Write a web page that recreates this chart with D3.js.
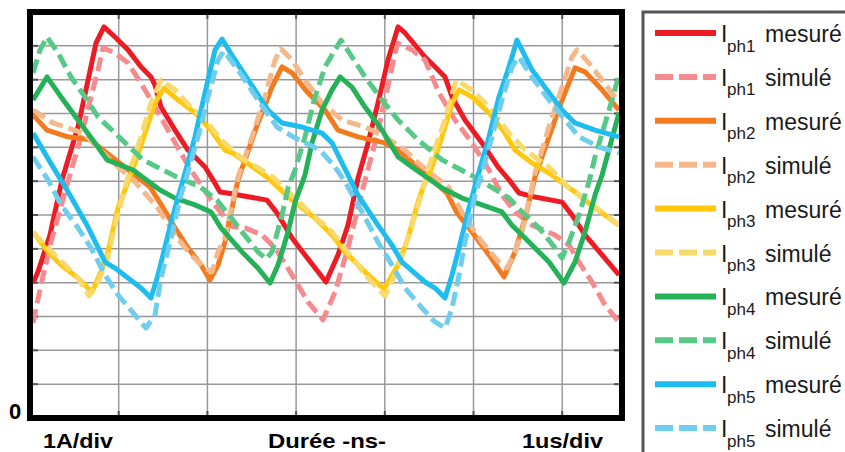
<!DOCTYPE html>
<html>
<head>
<meta charset="utf-8">
<script src="https://cdn.jsdelivr.net/npm/d3@7"></script>
<style>
  html, body { margin: 0; padding: 0; background: #fff; }
  svg { display: block; }
  text { font-family: "Liberation Sans", Arial, sans-serif; }
</style>
</head>
<body>
<svg id="chart" width="845" height="452"></svg>
<script>
// ---- Data: time in µs (1 µs/div), current in A (1 A/div) ----
const ph1Mesure = [[0.034,3.99],[0.090,4.32],[0.225,5.41],[0.361,7.04],[0.541,8.60],[0.631,9.70],[0.744,11.08],[0.834,11.56],[0.958,11.26],[1.105,10.88],[1.251,10.38],[1.364,10.08],[1.409,9.84],[1.477,9.19],[1.635,8.51],[1.781,7.92],[1.973,7.42],[2.063,7.04],[2.142,6.68],[2.221,6.65],[2.672,6.44],[2.785,6.06],[2.954,5.32],[3.100,4.82],[3.337,4.02],[3.472,4.82],[3.585,5.70],[3.698,7.09],[3.811,8.13],[3.923,9.31],[4.036,10.58],[4.149,11.56],[4.228,11.38],[4.453,10.67],[4.566,10.38],[4.679,10.08],[4.758,9.49],[4.904,8.81],[5.096,8.13],[5.276,7.42],[5.400,7.04],[5.513,6.65],[5.693,6.53],[5.998,6.38],[6.110,6.00],[6.257,5.41],[6.449,4.82],[6.640,4.23]];
const ph1Simule = [[0.034,2.81],[0.124,3.93],[0.237,5.20],[0.395,6.68],[0.575,8.31],[0.688,9.49],[0.767,10.29],[0.823,10.94],[0.958,10.79],[1.105,10.49],[1.251,9.90],[1.409,9.19],[1.556,8.51],[1.702,7.83],[1.815,7.33],[2.063,6.36],[2.289,5.65],[2.424,5.62],[2.616,5.41],[2.762,5.03],[2.954,4.23],[3.134,3.43],[3.303,2.90],[3.439,3.72],[3.585,5.03],[3.743,6.68],[3.890,8.13],[4.002,9.40],[4.115,10.79],[4.149,11.08],[4.307,10.88],[4.453,10.58],[4.611,9.61],[4.791,8.81],[4.983,8.13],[5.175,7.33],[5.321,6.59],[5.468,6.09],[5.659,5.70],[5.919,5.41],[6.077,5.11],[6.189,4.61],[6.336,4.02],[6.483,3.34],[6.640,2.84]];
const ph2Mesure = [[0.034,8.96],[0.192,8.51],[0.428,8.31],[0.676,8.22],[0.823,7.92],[1.353,6.83],[1.466,6.36],[1.635,5.62],[1.781,5.03],[1.928,4.52],[2.029,4.08],[2.120,4.52],[2.198,5.20],[2.345,7.04],[2.570,8.72],[2.728,9.78],[2.841,10.38],[2.954,10.20],[3.134,9.61],[3.326,9.10],[3.472,8.51],[3.698,8.31],[4.002,8.13],[4.149,7.92],[4.318,7.54],[4.701,6.65],[4.814,6.06],[4.983,5.50],[5.175,4.82],[5.344,4.17],[5.468,4.91],[5.581,5.91],[5.693,7.12],[5.851,8.31],[5.998,9.40],[6.144,10.35],[6.257,10.23],[6.449,9.70],[6.640,9.10]];
const ph2Simule = [[0.034,9.10],[0.259,8.72],[0.598,8.42],[0.902,7.63],[1.161,7.04],[1.432,6.24],[1.635,5.41],[1.815,4.82],[1.973,4.43],[2.052,4.32],[2.120,4.91],[2.198,5.32],[2.345,7.12],[2.503,8.31],[2.649,9.49],[2.762,10.58],[2.830,10.91],[2.954,10.58],[3.100,9.99],[3.292,9.31],[3.517,8.81],[3.777,8.60],[4.002,8.31],[4.228,7.92],[4.374,7.54],[4.724,6.80],[4.904,5.91],[5.096,5.20],[5.287,4.61],[5.378,4.43],[5.468,4.91],[5.547,5.50],[5.693,7.24],[5.851,8.60],[5.998,9.78],[6.110,10.67],[6.167,10.88],[6.302,10.49],[6.449,9.99],[6.595,9.49],[6.640,9.40]];
const ph3Mesure = [[0.034,5.50],[0.203,4.91],[0.350,4.52],[0.541,4.14],[0.699,3.72],[0.800,4.32],[0.879,4.91],[0.992,6.21],[1.105,6.98],[1.184,7.54],[1.297,8.42],[1.409,9.31],[1.511,9.75],[1.669,9.40],[1.860,9.02],[2.041,8.51],[2.198,7.92],[2.289,7.83],[2.672,7.12],[2.954,6.44],[3.213,5.91],[3.405,5.41],[3.551,4.91],[3.777,4.32],[3.991,3.81],[4.149,4.52],[4.262,5.32],[4.374,6.38],[4.453,6.98],[4.532,7.42],[4.645,8.31],[4.758,9.31],[4.837,9.70],[4.983,9.49],[5.175,9.02],[5.355,8.42],[5.468,7.92],[5.659,7.54],[5.851,7.24],[6.144,6.68],[6.370,6.21],[6.640,5.70]];
const ph3Simule = [[0.034,5.50],[0.203,5.03],[0.395,4.52],[0.541,4.14],[0.665,3.61],[0.767,4.02],[0.879,4.73],[0.958,5.70],[1.071,6.80],[1.139,7.42],[1.251,8.31],[1.364,9.31],[1.477,9.99],[1.635,9.70],[1.815,9.19],[2.007,8.72],[2.153,8.22],[2.368,7.72],[2.740,7.12],[3.123,6.15],[3.405,5.50],[3.630,4.73],[3.811,4.14],[4.002,3.61],[4.149,4.43],[4.307,5.70],[4.419,6.68],[4.532,7.72],[4.679,8.81],[4.803,9.99],[4.983,9.70],[5.175,9.19],[5.400,8.42],[5.581,7.92],[5.851,7.42],[6.077,6.80],[6.302,6.38],[6.640,5.70]];
const ph4Mesure = [[0.034,9.40],[0.192,10.08],[0.350,9.49],[0.541,8.81],[0.733,8.13],[0.868,7.63],[1.161,7.33],[1.466,6.74],[1.635,6.50],[1.860,6.30],[2.041,6.09],[2.153,5.62],[2.390,4.91],[2.570,4.43],[2.706,3.99],[2.796,4.52],[2.909,5.50],[2.988,6.38],[3.100,7.18],[3.179,8.13],[3.292,9.10],[3.405,9.70],[3.495,10.08],[3.630,9.78],[3.777,9.19],[3.968,8.51],[4.149,7.72],[4.307,7.42],[4.645,6.80],[4.870,6.50],[5.096,6.30],[5.321,6.09],[5.434,5.70],[5.626,5.20],[5.851,4.61],[6.020,3.99],[6.144,4.61],[6.257,5.50],[6.370,6.59],[6.449,7.18],[6.640,9.02]];
const ph4Simule = [[0.034,10.20],[0.113,10.88],[0.192,11.26],[0.316,10.79],[0.462,10.08],[0.620,9.49],[0.767,8.90],[0.958,8.42],[1.274,7.63],[1.657,7.12],[1.917,6.83],[2.108,6.44],[2.289,5.85],[2.390,5.50],[2.570,4.91],[2.661,4.70],[2.728,4.91],[2.841,6.00],[2.909,6.80],[2.988,7.33],[3.100,8.31],[3.213,9.49],[3.326,10.38],[3.506,11.17],[3.630,10.67],[3.777,10.08],[3.968,9.40],[4.149,8.81],[4.374,8.22],[4.645,7.63],[5.017,7.12],[5.400,6.50],[5.547,6.09],[5.738,5.62],[5.919,5.03],[5.998,4.73],[6.077,5.20],[6.189,6.00],[6.302,6.98],[6.370,7.72],[6.528,9.10],[6.640,10.14]];
const ph5Mesure = [[0.034,8.42],[0.225,7.57],[0.417,6.74],[0.643,5.70],[0.846,4.61],[0.958,4.43],[1.105,4.14],[1.251,3.84],[1.364,3.55],[1.443,4.23],[1.556,5.41],[1.635,6.21],[1.748,7.24],[1.860,8.31],[1.973,9.61],[2.086,10.88],[2.165,11.20],[2.289,10.67],[2.514,9.78],[2.683,9.10],[2.841,8.72],[3.067,8.60],[3.292,8.42],[3.405,8.13],[3.517,7.54],[3.698,6.59],[3.923,5.70],[4.081,5.11],[4.194,4.61],[4.453,4.02],[4.566,3.84],[4.679,3.55],[4.758,4.23],[4.837,5.03],[4.949,6.21],[5.062,7.27],[5.175,8.31],[5.287,9.49],[5.400,10.38],[5.490,11.17],[5.659,10.29],[5.851,9.61],[5.998,9.10],[6.144,8.72],[6.370,8.51],[6.640,8.31]];
const ph5Simule = [[0.034,7.72],[0.203,7.04],[0.350,6.30],[0.541,5.62],[0.688,5.03],[0.846,4.23],[0.992,3.64],[1.184,3.04],[1.308,2.66],[1.409,3.04],[1.477,4.14],[1.590,5.32],[1.702,6.59],[1.781,7.27],[1.894,8.31],[2.007,9.49],[2.120,10.58],[2.187,10.85],[2.368,10.20],[2.593,9.31],[2.785,8.60],[2.965,8.31],[3.269,7.92],[3.439,7.42],[3.551,6.98],[3.743,6.09],[3.923,5.20],[4.081,4.52],[4.228,3.84],[4.419,3.25],[4.566,2.84],[4.679,2.66],[4.758,3.25],[4.837,4.23],[4.904,5.20],[5.017,6.59],[5.096,7.27],[5.209,8.31],[5.321,9.40],[5.434,10.38],[5.513,10.67],[5.659,10.08],[5.851,9.40],[6.032,8.81],[6.189,8.31],[6.415,8.01],[6.640,7.83]];

const phaseNames = ["ph1", "ph2", "ph3", "ph4", "ph5"];
const seriesKinds = ["mesuré", "simulé"];
const measuredColors = ["#ed1c24", "#f47a20", "#ffc80d", "#24b157", "#1ebcef"];
const simulatedColors = ["#f58a8f", "#f5b88a", "#f8d96b", "#55c985", "#6fcdee"];
const xTicks = [1, 2, 3, 4, 5, 6];
const yTicks = [1, 2, 3, 4, 5, 6, 7, 8, 9, 10, 11];
const axisLabels = ["1A/div", "Durée -ns-", "1us/div"];

const series = [
  { phase: 0, kind: 0, data: ph1Mesure }, { phase: 0, kind: 1, data: ph1Simule },
  { phase: 1, kind: 0, data: ph2Mesure }, { phase: 1, kind: 1, data: ph2Simule },
  { phase: 2, kind: 0, data: ph3Mesure }, { phase: 2, kind: 1, data: ph3Simule },
  { phase: 3, kind: 0, data: ph4Mesure }, { phase: 3, kind: 1, data: ph4Simule },
  { phase: 4, kind: 0, data: ph5Mesure }, { phase: 4, kind: 1, data: ph5Simule }
];
const colorOf = s => s.kind === 0 ? measuredColors[s.phase] : simulatedColors[s.phase];

// ---- Layout ----
const svg = d3.select("#chart");
const L = 30, R = 622, T = 12, B = 418;
const x = d3.scaleLinear().domain([0, 6.674]).range([L, R]);
const y = d3.scaleLinear().domain([0, 12]).range([B, T]);

svg.append("defs").append("clipPath").attr("id", "plotclip")
  .append("rect").attr("x", L + 3).attr("y", T + 3).attr("width", R - L - 6).attr("height", B - T - 6);

// grid
const grid = svg.append("g");
grid.selectAll("line.vx").data(xTicks).join("line")
  .attr("x1", d => x(d)).attr("x2", d => x(d)).attr("y1", T).attr("y2", B)
  .attr("stroke", "#999").attr("stroke-width", 1.5);
grid.selectAll("line.hy").data(yTicks).join("line")
  .attr("x1", L).attr("x2", R).attr("y1", d => y(d)).attr("y2", d => y(d))
  .attr("stroke", "#999").attr("stroke-width", 1.5);
// small ticks on the frame
const tk = svg.append("g").attr("stroke", "#555").attr("stroke-width", 2);
yTicks.forEach(v => {
  tk.append("line").attr("x1", L + 2).attr("x2", L + 8).attr("y1", y(v)).attr("y2", y(v));
  tk.append("line").attr("x1", R - 8).attr("x2", R - 2).attr("y1", y(v)).attr("y2", y(v));
});
xTicks.forEach(v => {
  tk.append("line").attr("x1", x(v)).attr("x2", x(v)).attr("y1", T + 2).attr("y2", T + 7);
  tk.append("line").attr("x1", x(v)).attr("x2", x(v)).attr("y1", B - 7).attr("y2", B - 2);
});

// curves
const line = d3.line().x(d => x(d[0])).y(d => y(d[1]));
const plot = svg.append("g").attr("clip-path", "url(#plotclip)");
plot.selectAll("path").data(series).join("path")
  .attr("d", s => line(s.data))
  .attr("fill", "none")
  .attr("stroke", colorOf)
  .attr("stroke-width", 5)
  .attr("stroke-linejoin", "round")
  .attr("stroke-dasharray", s => s.kind === 1 ? "14,6" : null);

// frame
svg.append("rect").attr("x", L).attr("y", T).attr("width", R - L).attr("height", B - T)
  .attr("fill", "none").attr("stroke", "#000").attr("stroke-width", 6);

// axis labels
svg.append("text").attr("x", 9).attr("y", 419).attr("font-size", 22).attr("font-weight", "bold").text("0");
const labelX = [43, 268, 522];
const labelW = [70, 118, 81];
svg.selectAll("text.ax").data(axisLabels).join("text")
  .attr("class", "ax").attr("x", (d, i) => labelX[i]).attr("y", 448)
  .attr("textLength", (d, i) => labelW[i]).attr("lengthAdjust", "spacingAndGlyphs")
  .attr("font-size", 21).attr("font-weight", "bold").attr("fill", "#000").text(d => d);

// legend
svg.append("rect").attr("x", 643).attr("y", 12).attr("width", 260).attr("height", 500)
  .attr("fill", "#fff").attr("stroke", "#555").attr("stroke-width", 3);
const lg = svg.append("g");
series.forEach((s, i) => {
  const cy = 33 + i * 43.9;
  lg.append("line").attr("x1", 655).attr("x2", 716).attr("y1", cy).attr("y2", cy)
    .attr("stroke", colorOf(s)).attr("stroke-width", 6)
    .attr("stroke-dasharray", s.kind === 1 ? "18,6" : null);
  lg.append("text").attr("x", 721).attr("y", cy + 9).attr("font-size", 23).attr("fill", "#1a1a1a").text("I");
  lg.append("text").attr("x", 727).attr("y", cy + 18.5).attr("font-size", 17).attr("fill", "#1a1a1a").text(phaseNames[s.phase]);
  lg.append("text").attr("x", 765).attr("y", cy + 9).attr("font-size", 23).attr("fill", "#1a1a1a").text(seriesKinds[s.kind]);
});
</script>
</body>
</html>
